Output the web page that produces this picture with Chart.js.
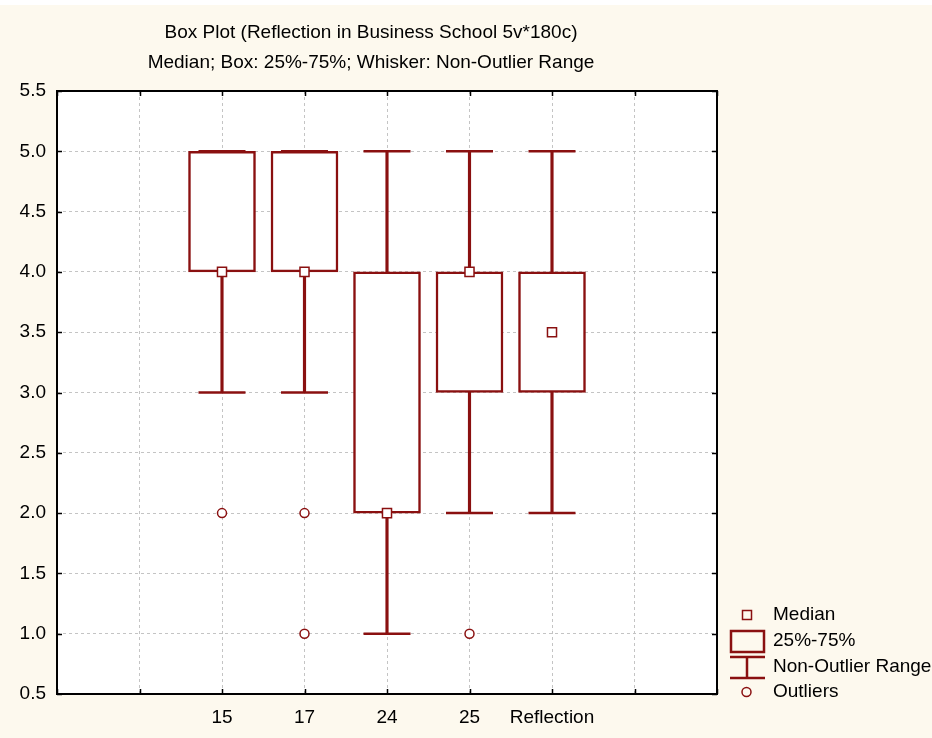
<!DOCTYPE html>
<html>
<head>
<meta charset="utf-8">
<title>Box Plot (Reflection in Business School 5v*180c)</title>
<script src="https://cdn.jsdelivr.net/npm/chart.js@4.4.1/dist/chart.umd.min.js"></script>
<style>
  html, body { margin: 0; padding: 0; background: #fdf9ee; }
  canvas { display: block; }
</style>
</head>
<body>
<canvas id="boxChart" width="932" height="738"></canvas>
<script>
// Box plot values per variable
const categories = ['15', '17', '24', '25', 'Reflection'];
const medians = [4, 4, 2, 4, 3.5];
const boxLow = [4, 4, 2, 3, 3];       // 25%
const boxHigh = [5, 5, 4, 4, 4];      // 75%
const whiskerLow = [3, 3, 1, 2, 2];
const whiskerHigh = [5, 5, 5, 5, 5];
const outliers = [[2], [2, 1], [], [1], []];

const yMin = 0.5;
const yMax = 5.5;
const yStep = 0.5;

const titleLines = [
    'Box Plot (Reflection in Business School 5v*180c)',
    'Median; Box: 25%-75%; Whisker: Non-Outlier Range'
];
const legendItems = ['Median', '25%-75%', 'Non-Outlier Range', 'Outliers'];

const RED = '#8a1010';
const FONT = "'Liberation Sans', Arial, sans-serif";

// two empty slots on each side of the variables
const xLabels = ['', ''].concat(categories, ['', '']);
const offset = 2;

function slotData(values) {
    return xLabels.map((_, i) => {
        const k = i - offset;
        return (k >= 0 && k < categories.length) ? values(k) : null;
    });
}

const capPoints = [];
categories.forEach((c, i) => {
    capPoints.push({ x: c, y: whiskerLow[i] });
    capPoints.push({ x: c, y: whiskerHigh[i] });
});
const medianPoints = categories.map((c, i) => ({ x: c, y: medians[i] }));
const outlierPoints = [];
categories.forEach((c, i) => outliers[i].forEach(v => outlierPoints.push({ x: c, y: v })));

// backgrounds, frame, titles and the legend
const decor = {
    id: 'decor',
    beforeDraw(chart) {
        const { ctx, chartArea: a } = chart;
        ctx.save();
        ctx.fillStyle = '#fdf9ee';
        ctx.fillRect(0, 0, chart.width, chart.height);
        ctx.fillStyle = '#ffffff';
        ctx.fillRect(0, 0, chart.width, 5);
        ctx.fillRect(a.left, a.top, a.right - a.left, a.bottom - a.top);
        ctx.restore();
    },
    afterDraw(chart) {
        const { ctx, chartArea: a, scales } = chart;
        ctx.save();
        // frame
        ctx.strokeStyle = '#000';
        ctx.lineWidth = 2;
        ctx.strokeRect(a.left, a.top, a.right - a.left, a.bottom - a.top);
        // inward tick marks
        ctx.lineWidth = 1.5;
        ctx.beginPath();
        scales.x.ticks.forEach((t, i) => {
            const px = Math.round(scales.x.getPixelForTick(i)) + 0.5;
            ctx.moveTo(px, a.bottom); ctx.lineTo(px, a.bottom - 5);
            ctx.moveTo(px, a.top); ctx.lineTo(px, a.top + 5);
        });
        scales.y.ticks.forEach(t => {
            const py = Math.round(scales.y.getPixelForValue(t.value)) + 0.5;
            ctx.moveTo(a.left, py); ctx.lineTo(a.left + 5, py);
            ctx.moveTo(a.right, py); ctx.lineTo(a.right - 5, py);
        });
        ctx.stroke();

        // titles
        ctx.fillStyle = '#000';
        ctx.font = '19px ' + FONT;
        ctx.textAlign = 'center';
        ctx.textBaseline = 'middle';
        ctx.fillText(titleLines[0], 371, 33);
        ctx.fillText(titleLines[1], 371, 63);

        // legend
        ctx.strokeStyle = RED;
        ctx.lineWidth = 1.5;
        ctx.strokeRect(742.5, 610.5, 9, 9);
        ctx.lineWidth = 2.5;
        ctx.strokeRect(731, 631, 33, 21);
        ctx.beginPath();
        ctx.moveTo(730, 657); ctx.lineTo(765, 657);
        ctx.moveTo(747, 657); ctx.lineTo(747, 678);
        ctx.moveTo(730, 678); ctx.lineTo(765, 678);
        ctx.stroke();
        ctx.lineWidth = 1.5;
        ctx.beginPath();
        ctx.arc(746.5, 692, 4.5, 0, Math.PI * 2);
        ctx.stroke();

        ctx.textAlign = 'left';
        const rows = [615, 641, 667, 692];
        legendItems.forEach((s, i) => ctx.fillText(s, 773, rows[i]));
        ctx.restore();
    }
};

new Chart(document.getElementById('boxChart'), {
    type: 'bar',
    data: {
        labels: xLabels,
        datasets: [
            {
                label: 'Non-Outlier Range',
                data: slotData(k => [whiskerLow[k], whiskerHigh[k]]),
                backgroundColor: RED,
                borderWidth: 0,
                barThickness: 2.5,
                grouped: false,
                order: 4
            },
            {
                label: '25%-75%',
                data: slotData(k => [boxLow[k], boxHigh[k]]),
                backgroundColor: '#ffffff',
                borderColor: RED,
                borderWidth: 2.5,
                borderSkipped: false,
                barThickness: 67,
                grouped: false,
                order: 3
            },
            {
                type: 'line',
                label: 'caps',
                data: capPoints,
                showLine: false,
                pointStyle: 'line',
                pointRadius: 23.5,
                borderColor: RED,
                pointBorderWidth: 2.5,
                order: 2
            },
            {
                type: 'line',
                label: 'Median',
                data: medianPoints,
                showLine: false,
                pointStyle: 'rect',
                pointRadius: 6.4,
                pointBackgroundColor: '#ffffff',
                pointBorderColor: RED,
                pointBorderWidth: 1.5,
                order: 1
            },
            {
                type: 'line',
                label: 'Outliers',
                data: outlierPoints,
                showLine: false,
                pointStyle: 'circle',
                pointRadius: 4.5,
                pointBackgroundColor: '#ffffff',
                pointBorderColor: RED,
                pointBorderWidth: 1.5,
                order: 0
            }
        ]
    },
    options: {
        responsive: false,
        animation: false,
        layout: { padding: { top: 91, right: 215, bottom: 0, left: 0 } },
        plugins: {
            legend: { display: false },
            tooltip: { enabled: false },
            title: { display: false }
        },
        scales: {
            x: {
                type: 'category',
                offset: false,
                grid: {
                    offset: false,
                    drawTicks: false,
                    color: '#c4c4c4',
                    lineWidth: 1
                },
                border: { display: false, dash: [3, 3] },
                ticks: {
                    autoSkip: false,
                    maxRotation: 0,
                    padding: 12,
                    color: '#000',
                    font: { family: FONT, size: 19 }
                },
                afterFit(scale) { scale.height = 44; }
            },
            y: {
                min: yMin,
                max: yMax,
                grid: {
                    drawTicks: false,
                    color: '#c4c4c4',
                    lineWidth: 1
                },
                border: { display: false, dash: [3, 3] },
                ticks: {
                    stepSize: yStep,
                    padding: 11,
                    color: '#000',
                    font: { family: FONT, size: 19 },
                    callback: v => Number(v).toFixed(1)
                },
                afterFit(scale) { scale.width = 57; }
            }
        }
    },
    plugins: [decor]
});
</script>
</body>
</html>
